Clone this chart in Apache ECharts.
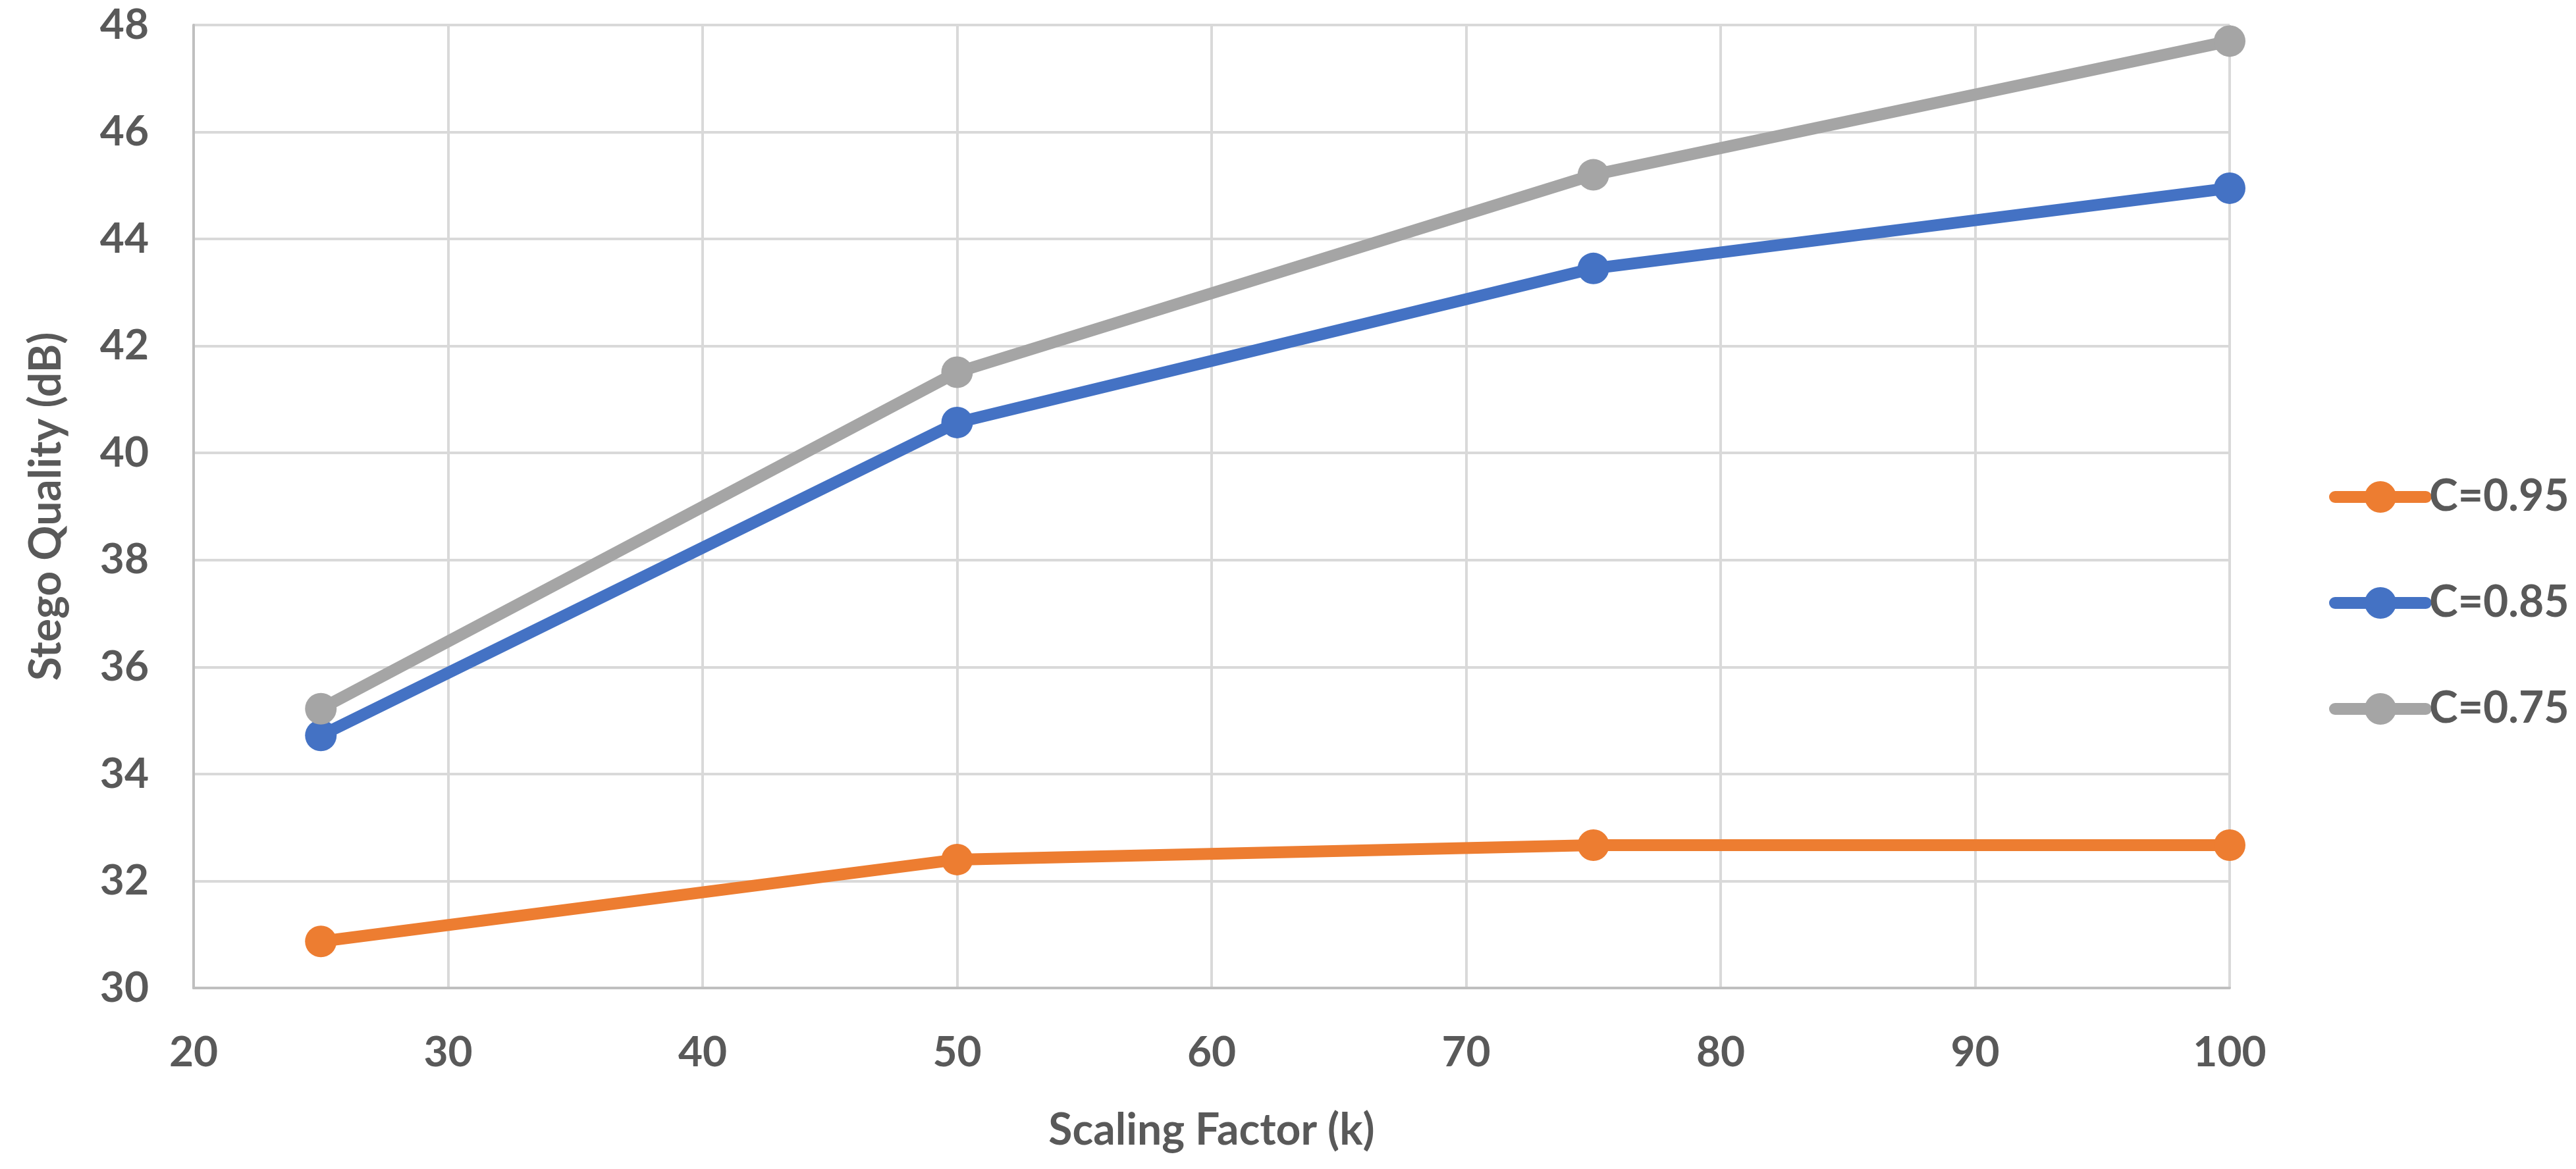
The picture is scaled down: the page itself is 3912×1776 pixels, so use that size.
<!DOCTYPE html>
<html>
<head>
<meta charset="utf-8">
<script src="https://cdn.jsdelivr.net/npm/echarts@6/dist/echarts.min.js"></script>
<style>
html,body{margin:0;padding:0;background:#fff;}
#chart{width:3912px;height:1776px;}
</style>
</head>
<body>
<div id="chart"></div>
<script>
const scalingFactor = [25, 50, 75, 100];
const seriesNames = ['C=0.95', 'C=0.85', 'C=0.75'];
const c095 = [30.87, 32.40, 32.67, 32.67];
const c085 = [34.72, 40.57, 43.45, 44.95];
const c075 = [35.22, 41.51, 45.20, 47.70];
const colors = ['#ED7D31', '#4472C4', '#A5A5A5'];
const xTitle = 'Scaling Factor (k)';
const yTitle = 'Stego Quality (dB)';

const font = 'Lato';
const txt = '#595959';
const allValues = [c095, c085, c075];

const chart = echarts.init(document.getElementById('chart'), null, {renderer: 'canvas'});
chart.setOption({
  backgroundColor: '#ffffff',
  animation: false,
  color: colors,
  grid: {left: 294, right: 526, top: 38, bottom: 275, containLabel: false},
  xAxis: {
    type: 'value', min: 20, max: 100, interval: 10,
    name: xTitle, nameLocation: 'middle', nameGap: 184,
    nameTextStyle: {fontFamily: font, fontWeight: 'bold', fontSize: 66, color: txt},
    axisLine: {show: true, lineStyle: {color: '#bfbfbf', width: 4}},
    axisTick: {show: false},
    axisLabel: {fontFamily: font, fontWeight: 'bold', fontSize: 64, color: txt, margin: 66},
    splitLine: {show: true, lineStyle: {color: '#d9d9d9', width: 4}}
  },
  yAxis: {
    type: 'value', min: 30, max: 48, interval: 2,
    name: yTitle, nameLocation: 'middle', nameGap: 190, nameRotate: 90,
    nameTextStyle: {fontFamily: font, fontWeight: 'bold', fontSize: 66, color: txt},
    axisLine: {show: true, lineStyle: {color: '#bfbfbf', width: 4}},
    axisTick: {show: false},
    axisLabel: {fontFamily: font, fontWeight: 'bold', fontSize: 64, color: txt, margin: 68},
    splitLine: {show: true, lineStyle: {color: '#d9d9d9', width: 4}}
  },
  legend: {
    orient: 'vertical', left: 3532, top: 717,
    itemWidth: 138, itemHeight: 60, itemGap: 95,
    data: seriesNames,
    lineStyle: {width: 18, cap: 'round'},
    textStyle: {fontFamily: font, fontWeight: 'bold', fontSize: 66, color: txt, lineHeight: 66}
  },
  series: seriesNames.map((n, i) => ({
    name: n, type: 'line',
    data: scalingFactor.map((x, j) => [x, allValues[i][j]]),
    symbol: 'circle', symbolSize: 48,
    lineStyle: {width: 18, color: colors[i], cap: 'round', join: 'round'},
    itemStyle: {color: colors[i]}
  }))
});
</script>
</body>
</html>
